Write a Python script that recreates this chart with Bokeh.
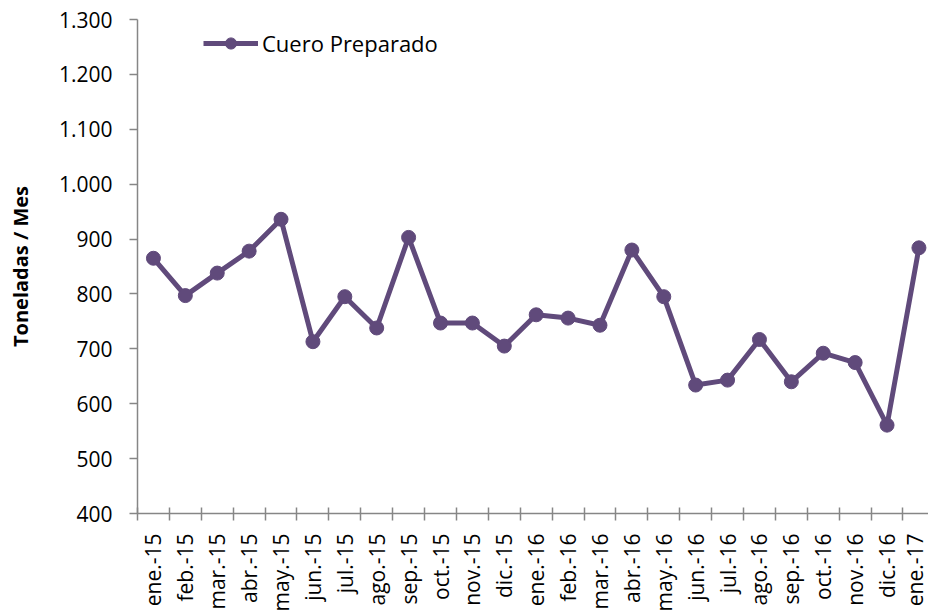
import math
from bokeh.plotting import figure
from bokeh.models import Range1d, FixedTicker, Legend, LegendItem
from bokeh.embed import file_html
from bokeh.resources import INLINE

months = ["ene.-15", "feb.-15", "mar.-15", "abr.-15", "may.-15", "jun.-15",
          "jul.-15", "ago.-15", "sep.-15", "oct.-15", "nov.-15", "dic.-15",
          "ene.-16", "feb.-16", "mar.-16", "abr.-16", "may.-16", "jun.-16",
          "jul.-16", "ago.-16", "sep.-16", "oct.-16", "nov.-16", "dic.-16",
          "ene.-17"]
cuero_preparado = [865, 797, 838, 878, 936, 713, 795, 738, 903, 747, 747, 705,
                   762, 756, 743, 880, 795, 634, 643, 717, 640, 692, 675, 561,
                   884]
y_ticks = [400, 500, 600, 700, 800, 900, 1000, 1100, 1200, 1300]
y_tick_labels = ["400", "500", "600", "700", "800", "900", "1.000", "1.100",
                 "1.200", "1.300"]
series_name = "Cuero Preparado"
y_title = "Toneladas / Mes"

COLOR = "#604A7B"
AXIS = "#868686"
FONT = "Open Sans"

x = list(range(len(months)))

p = figure(width=928, height=614, output_backend="svg", toolbar_location=None,
           x_range=Range1d(-0.5, 24.3), y_range=Range1d(400, 1300),
           min_border_left=137, min_border_right=0, min_border_top=19,
           min_border_bottom=101)
p.outline_line_color = None
p.grid.visible = False
p.background_fill_color = "white"

ln = p.line(x, cuero_preparado, line_color=COLOR, line_width=5)
pts = p.scatter(x, cuero_preparado, size=14, fill_color=COLOR, line_color=COLOR)

# x axis
xa = p.xaxis[0]
xa.ticker = FixedTicker(ticks=x, minor_ticks=[i - 0.5 for i in range(len(months) + 1)])
xa.major_label_overrides = {i: m for i, m in enumerate(months)}
xa.major_tick_in = 0
xa.major_tick_out = 0
xa.minor_tick_in = 6
xa.minor_tick_out = 7
xa.minor_tick_line_color = AXIS
xa.minor_tick_line_width = 1.5
xa.axis_line_color = AXIS
xa.axis_line_width = 1.5
xa.major_label_orientation = math.pi / 2
xa.major_label_standoff = 13
xa.major_label_text_font = FONT
xa.major_label_text_font_size = "21px"
xa.major_label_text_color = "black"

# y axis
ya = p.yaxis[0]
ya.ticker = FixedTicker(ticks=y_ticks, minor_ticks=[])
ya.major_label_overrides = {v: s for v, s in zip(y_ticks, y_tick_labels)}
ya.major_tick_in = 0
ya.major_tick_out = 8
ya.major_tick_line_color = AXIS
ya.major_tick_line_width = 1.5
ya.minor_tick_line_color = None
ya.axis_line_color = AXIS
ya.axis_line_width = 1.5
ya.major_label_standoff = 17
ya.major_label_text_font = FONT
ya.major_label_text_font_size = "21px"
ya.major_label_text_color = "black"
ya.axis_label = y_title
ya.axis_label_text_font = FONT
ya.axis_label_text_font_style = "bold"
ya.axis_label_text_font_size = "20px"
ya.axis_label_text_color = "black"
ya.axis_label_standoff = 22

legend = Legend(items=[LegendItem(label=series_name, renderers=[ln, pts])],
                location=(66, 455), padding=0, margin=0, spacing=0,
                label_standoff=4, glyph_width=55, glyph_height=28,
                label_height=28,
                border_line_color=None, background_fill_alpha=0,
                label_text_font=FONT, label_text_font_size="22px",
                label_text_color="black")
p.add_layout(legend)

open("out.html", "w").write(file_html(p, INLINE))
